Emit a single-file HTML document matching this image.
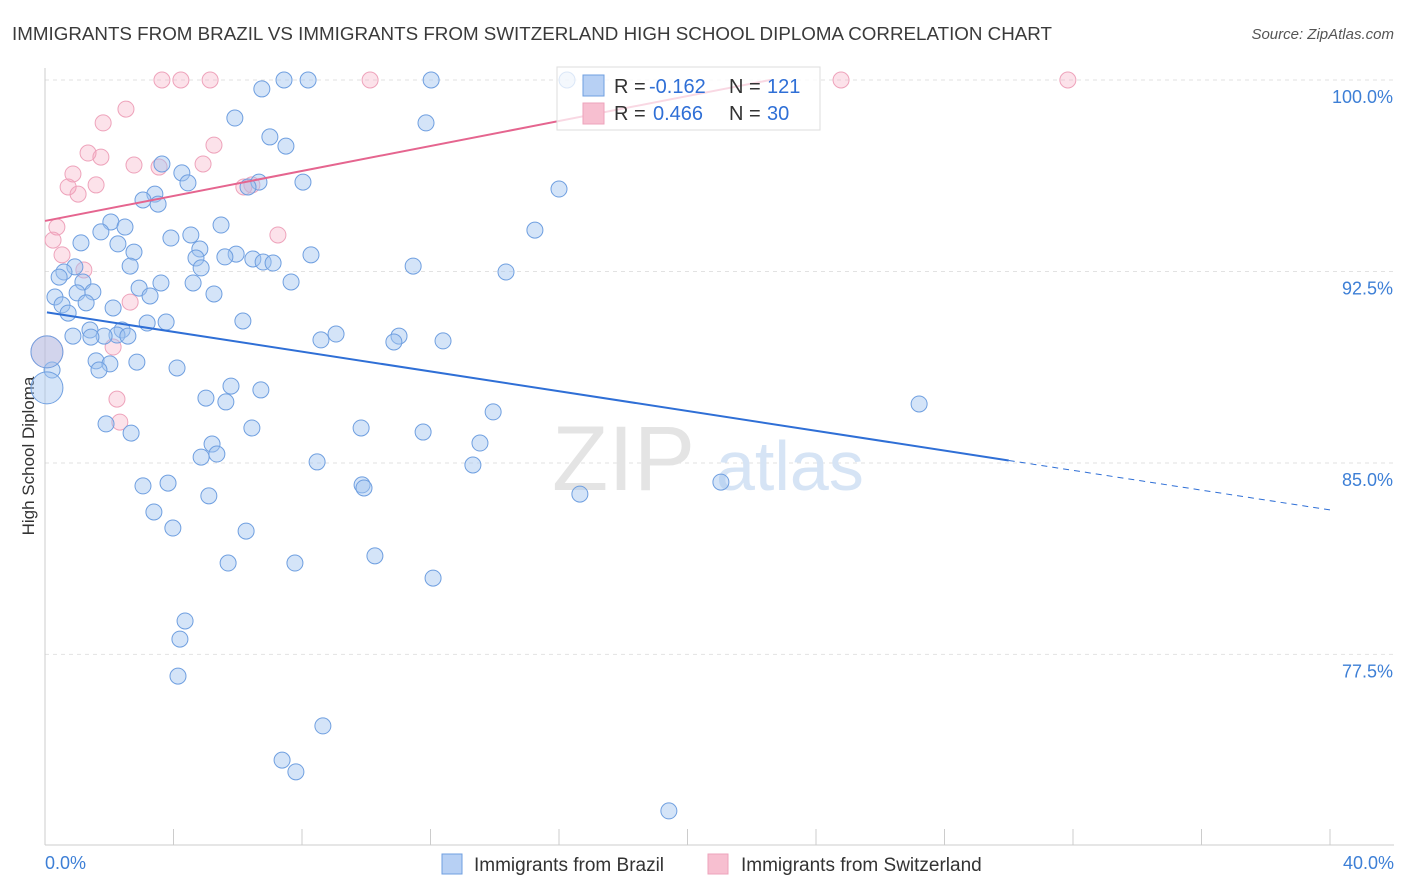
<!DOCTYPE html>
<html><head><meta charset="utf-8"><style>
body{margin:0;background:#fff;font-family:"Liberation Sans",sans-serif;}
#wrap{position:relative;width:1406px;height:892px;overflow:hidden;}
svg text{font-family:"Liberation Sans",sans-serif;}
</style></head><body>
<div id="wrap">
<svg id="chart" width="1406" height="892"></svg>
</div>
<script>
const brazilX=[16.25,7.44,8.19,12.02,6.75,5.91,11.86,7.0,7.5,3.64,4.26,4.45,6.66,8.03,6.32,3.42,3.05,3.52,16.0,2.05,5.48,2.49,1.74,15.25,1.12,3.92,4.54,2.27,4.82,2.77,5.95,4.7,5.6,8.28,6.47,6.79,7.1,2.65,4.86,11.46,14.35,0.93,0.59,0.44,1.18,3.61,4.61,7.66,2.93,3.27,5.26,1.0,1.49,0.31,0.53,1.28,0.72,2.12,3.18,3.77,6.16,1.4,2.4,2.24,2.58,1.84,0.87,1.43,9.06,8.59,11.02,10.86,12.39,1.59,2.02,2.86,1.68,4.11,0.22,5.79,6.72,5.01,5.63,27.21,13.95,1.9,6.44,9.84,11.77,2.68,5.2,5.35,4.86,13.54,8.47,13.32,21.04,3.05,3.83,9.87,9.93,16.65,5.1,3.39,3.98,6.26,5.7,7.78,10.27,12.08,4.36,4.2,4.14,8.65,7.38,7.81,19.42,0.06,0.06];
const brazilY=[100,100,100,100,99.65,98.51,98.32,97.77,97.41,96.71,96.36,95.97,96.0,96.0,95.81,95.53,95.3,95.14,95.73,94.44,94.32,94.24,94.05,94.12,93.62,93.81,93.93,93.58,93.38,93.26,93.18,93.03,93.07,93.15,92.99,92.87,92.83,92.71,92.64,92.71,92.48,92.68,92.48,92.28,92.09,92.05,92.05,92.09,91.85,91.54,91.62,91.66,91.7,91.5,91.19,91.27,90.87,91.07,90.48,90.52,90.56,90.21,90.21,90.01,89.97,89.97,89.97,89.93,90.05,89.82,89.97,89.74,89.78,89.0,88.88,88.95,88.64,88.72,88.64,88.01,87.86,87.54,87.39,87.31,87.0,86.53,86.37,86.37,86.21,86.17,85.74,85.35,85.23,85.78,85.04,84.92,84.25,84.1,84.21,84.14,84.02,83.78,83.71,83.08,82.45,82.33,81.08,81.08,81.36,80.49,78.81,78.1,76.65,74.7,73.36,72.9,71.37,89.35,87.94];
const swissX=[3.64,4.23,5.14,10.12,24.78,31.84,2.52,1.81,5.26,1.34,1.74,2.77,3.55,4.92,0.87,0.72,1.59,1.03,6.19,6.44,0.37,0.25,7.25,0.53,1.21,2.65,2.12,2.24,2.33,0.06];
const swissY=[100,100,100,100,100,100,98.86,98.32,97.45,97.14,96.98,96.67,96.59,96.71,96.32,95.81,95.89,95.53,95.81,95.89,94.24,93.73,93.93,93.15,92.56,91.3,89.54,87.5,86.6,89.35];
const yTicks=[100,92.5,85,77.5];
const yTickLabels=["100.0%","92.5%","85.0%","77.5%"];
const brazilFit=[90.91,83.16]; // y at x=0 and x=40
const swissFit=[94.48,0.2446]; // intercept, slope

const svg=document.getElementById('chart');
const NS='http://www.w3.org/2000/svg';
const xs=v=>45+v*32.125;
const ys=v=>80+(100-v)*25.53;
function mk(tag,attrs,parent){const e=document.createElementNS(NS,tag);for(const k in attrs)e.setAttribute(k,attrs[k]);(parent||svg).appendChild(e);return e;}

let t=mk('text',{x:12,y:40,'font-size':18.5,fill:'#3a3a3a',textLength:1040,lengthAdjust:'spacingAndGlyphs'});t.textContent='IMMIGRANTS FROM BRAZIL VS IMMIGRANTS FROM SWITZERLAND HIGH SCHOOL DIPLOMA CORRELATION CHART';

t=mk('text',{x:1394,y:39,'font-size':15,fill:'#555','text-anchor':'end','font-style':'italic'});t.textContent='Source: ZipAtlas.com';


yTicks.forEach((v,i)=>{
 const l=mk('line',{x1:45,x2:1394,y1:ys(v),y2:ys(v),stroke:'#e2e2e2','stroke-dasharray':'4,4'});
 
 const tx=mk('text',{x:1393,y:ys(v)+23,'font-size':18,fill:'#3d7fd6','text-anchor':'end'});tx.textContent=yTickLabels[i];
 
});
let a=mk('line',{x1:45,x2:45,y1:68,y2:845,stroke:'#ccc'});
a=mk('line',{x1:45,x2:1394,y1:845,y2:845,stroke:'#ccc'});
for(let i=0;i<=10;i++){const l=mk('line',{x1:xs(i*4),x2:xs(i*4),y1:829,y2:845,stroke:'#ccc'});}
t=mk('text',{x:45,y:869,'font-size':18,fill:'#3d7fd6'});t.textContent='0.0%';
t=mk('text',{x:1394,y:869,'font-size':18,fill:'#3d7fd6','text-anchor':'end'});t.textContent='40.0%';
t=mk('text',{x:34,y:456,'font-size':17,fill:'#333','text-anchor':'middle',transform:'rotate(-90 34 456)'});t.textContent='High School Diploma';


t=mk('text',{x:552,y:490,'font-size':92,fill:'#e4e4e4','font-family':'Liberation Serif'});t.textContent='ZIP';

t=mk('text',{x:716,y:490,'font-size':70,fill:'#d6e4f5'});t.textContent='atlas';


swissX.forEach((x,i)=>{const big=(i===swissX.length-1);
 const c=mk('circle',{cx:xs(x),cy:ys(swissY[i]),r:big?16:8,fill:'rgba(244,160,185,0.3)',stroke:'#eea3bb','stroke-width':1});
 });
brazilX.forEach((x,i)=>{const big=i>=brazilX.length-2;
 const c=mk('circle',{cx:xs(x),cy:ys(brazilY[i]),r:big?16:8,fill:'rgba(160,195,240,0.45)',stroke:'#6f9fe0','stroke-width':1});
 });

const by=x=>brazilFit[0]+(brazilFit[1]-brazilFit[0])*x/40;
let r=mk('line',{x1:xs(0.06),y1:ys(by(0.06)),x2:xs(30),y2:ys(by(30)),stroke:'#2f6fd6','stroke-width':2});

r=mk('line',{x1:xs(30),y1:ys(by(30)),x2:xs(40),y2:ys(by(40)),stroke:'#2f6fd6','stroke-width':1,'stroke-dasharray':'6,5'});

const sy=x=>swissFit[0]+swissFit[1]*x;
r=mk('line',{x1:xs(0),y1:ys(sy(0)),x2:xs(22.6),y2:ys(sy(22.6)),stroke:'#e5658f','stroke-width':2});


const g=mk('g',{});
mk('rect',{x:557,y:67,width:263,height:63,fill:'rgba(255,255,255,0.75)',stroke:'#ddd'},g);
mk('rect',{x:583,y:75,width:21,height:21,fill:'#b7d0f4',stroke:'#6f9fe0'},g);
mk('rect',{x:583,y:103,width:21,height:21,fill:'#f7bfd0',stroke:'#eea3bb'},g);
function lt(x,y,s,c){const e=mk('text',{x:x,y:y,'font-size':20,fill:c},g);e.textContent=s;return e;}
lt(614,93,'R =','#333');lt(649,93,'-0.162','#2f6fd6');lt(729,93,'N =','#333');lt(767,93,'121','#2f6fd6');
lt(614,120,'R =','#333');lt(653,120,'0.466','#2f6fd6');lt(729,120,'N =','#333');lt(767,120,'30','#2f6fd6');

const b=mk('g',{});
let s=mk('rect',{x:442,y:854,width:20,height:20,fill:'#b7d0f4',stroke:'#6f9fe0'},b);
t=mk('text',{x:474,y:871,'font-size':19,fill:'#333'},b);t.textContent='Immigrants from Brazil';
s=mk('rect',{x:708,y:854,width:20,height:20,fill:'#f7bfd0',stroke:'#eea3bb'},b);
t=mk('text',{x:741,y:871,'font-size':19,fill:'#333'},b);t.textContent='Immigrants from Switzerland';
</script>
</body></html>
